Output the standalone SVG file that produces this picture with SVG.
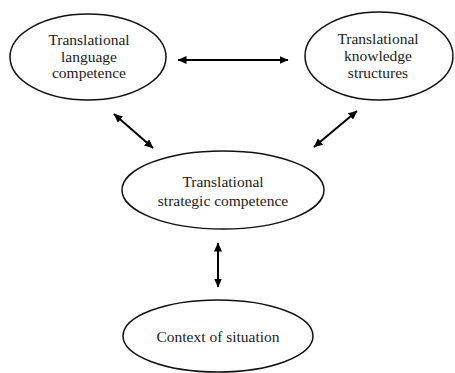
<svg xmlns="http://www.w3.org/2000/svg" width="455" height="373" viewBox="0 0 455 373">
<defs>
<marker id="ah" viewBox="0 0 9 8" refX="8.5" refY="4" markerWidth="9" markerHeight="8" orient="auto-start-reverse" markerUnits="userSpaceOnUse">
<path d="M0,0 L9,4 L0,8 Z" fill="#000"/>
</marker>
</defs>
<style>
.node ellipse{fill:#fff;stroke:#111;stroke-width:1.5}
.node text{font-family:"Liberation Serif","Times New Roman",serif;font-size:15.5px;fill:#222;text-anchor:middle}
.conn line{stroke:#000;stroke-width:2;marker-start:url(#ah);marker-end:url(#ah)}
</style>
<rect width="455" height="373" fill="#fff"/>
<g id="language">
<g class="node">
<ellipse cx="88" cy="57" rx="78" ry="43"/>
<text x="89" y="45">Translational</text>
<text x="89" y="62">language</text>
<text x="89" y="78">competence</text>
</g>
</g>
<g id="knowledge">
<g class="node">
<ellipse cx="379" cy="56" rx="74" ry="44"/>
<text x="378" y="44">Translational</text>
<text x="378" y="61">knowledge</text>
<text x="378" y="78">structures</text>
</g>
</g>
<g id="strategic">
<g class="node">
<ellipse cx="223" cy="190" rx="101" ry="39"/>
<text x="223" y="187">Translational</text>
<text x="223" y="206">strategic competence</text>
</g>
</g>
<g id="context">
<g class="node">
<ellipse cx="218" cy="336" rx="95" ry="36"/>
<text x="218" y="342">Context of situation</text>
</g>
</g>
<g id="connectors" class="conn">
<line x1="178" y1="60" x2="288" y2="60"/>
<line x1="114" y1="114" x2="153" y2="148"/>
<line x1="357" y1="111" x2="314" y2="147"/>
<line x1="218" y1="243" x2="218" y2="287"/>
</g>
</svg>
